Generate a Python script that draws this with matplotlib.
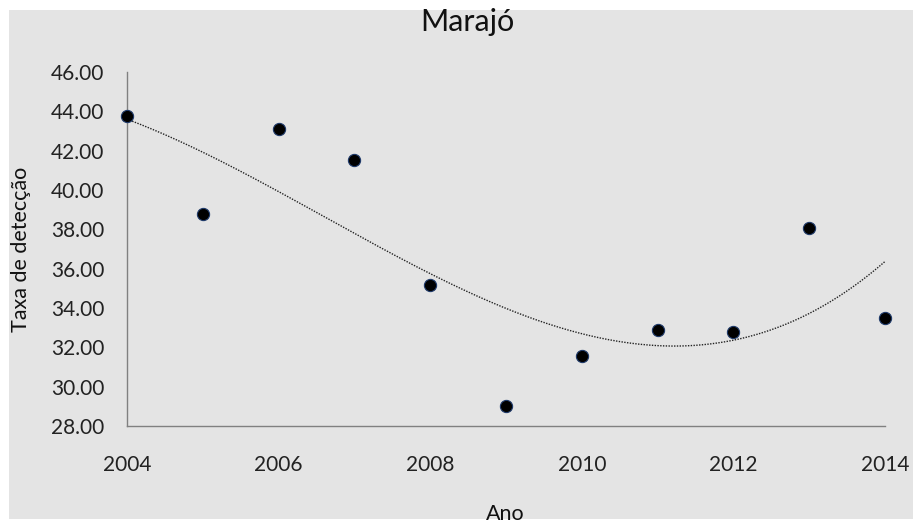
import numpy as np
import matplotlib
matplotlib.use("Agg")
import matplotlib.pyplot as plt
from matplotlib.patches import Rectangle

plt.rcParams['font.family'] = ['Lato', 'DejaVu Sans']

years = [2004, 2005, 2006, 2007, 2008, 2009, 2010, 2011, 2012, 2013, 2014]
rates = [43.76, 38.78, 43.10, 41.53, 35.19, 29.04, 31.58, 32.88, 32.78, 38.07, 33.48]
yticks = [28, 30, 32, 34, 36, 38, 40, 42, 44, 46]
xticks = [2004, 2006, 2008, 2010, 2012, 2014]
title = "Marajó"
xlabel = "Ano"
ylabel = "Taxa de detecção"

W, H = 913, 526
fig = plt.figure(figsize=(W / 100, H / 100), dpi=100)
fig.patch.set_facecolor('white')
bg = '#e4e4e4'
fig.patches.append(Rectangle((9 / W, 1 - 519 / H), (W - 9) / W, (519 - 10) / H,
                             transform=fig.transFigure, facecolor=bg, edgecolor='none', zorder=-10))

ax = fig.add_axes([127 / W, 1 - 426 / H, (885 - 127) / W, (426 - 72) / H])
ax.set_facecolor('none')
ax.set_zorder(5)

# cubic trend line
coef = np.polyfit(np.array(years, dtype=float) - 2009, rates, 3)
xs = np.linspace(years[0], years[-1], 300)
ax.plot(xs, np.polyval(coef, xs - 2009), color='#222222', lw=1.0, linestyle=(0, (1, 1)), zorder=2)

ax.plot(years, rates, linestyle='none', marker='o', markersize=8.8,
        markerfacecolor='black', markeredgecolor='#1f3a6a', markeredgewidth=0.8,
        zorder=3, clip_on=False)

ax.set_xlim(2004, 2014)
ax.set_ylim(28, 46)
ax.set_xticks(xticks)
ax.set_yticks(yticks)
ax.set_yticklabels([f"{v:.2f}" for v in yticks])
ax.tick_params(axis='both', length=0, labelsize=15, colors='#222222')
ax.tick_params(axis='x', pad=21)
ax.tick_params(axis='y', pad=16.5)

for s in ['top', 'right']:
    ax.spines[s].set_visible(False)
for s in ['left', 'bottom']:
    ax.spines[s].set_color('#808080')
    ax.spines[s].set_linewidth(1.0)

fig.text(467 / W, 1 - 22 / H, title, ha='center', va='center', fontsize=22, color='#111111')
fig.text(21 / W, 1 - 249 / H, ylabel, ha='center', va='center', rotation=90, fontsize=15.5, color='#111111')
fig.text(505 / W, 1 - 514 / H, xlabel, ha='center', va='center', fontsize=15.5, color='#111111')

fig.savefig('out.png', dpi=100)
